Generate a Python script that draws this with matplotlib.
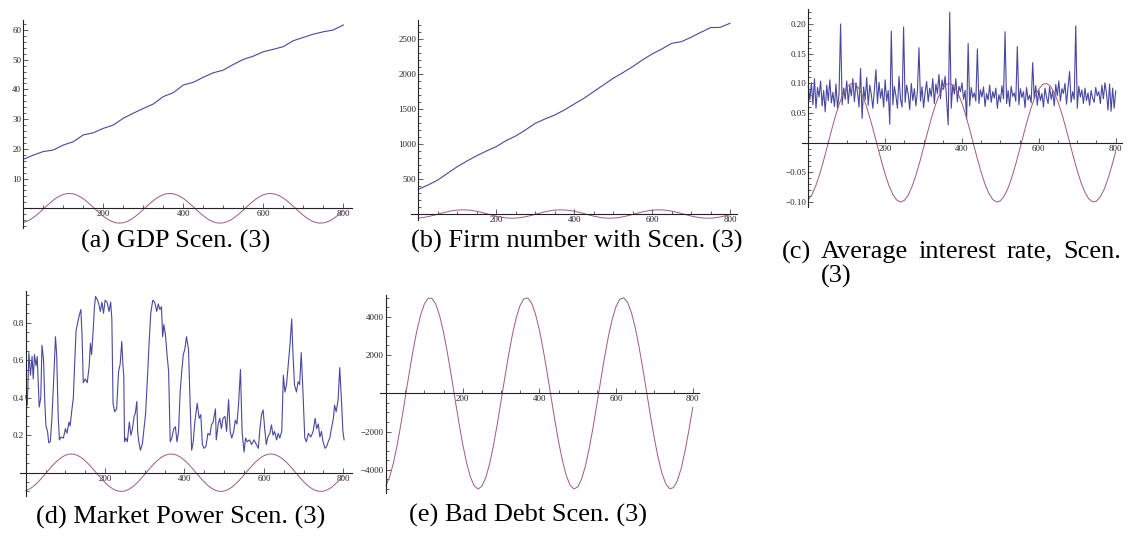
"""Five Mathematica-style panels: scenario (3) series against the sine driver."""
import numpy as np
import matplotlib
matplotlib.use("Agg")
import matplotlib.pyplot as plt
from matplotlib.ticker import MultipleLocator, FuncFormatter

W, H = 1128, 543
BLUE = "#4848a0"
PINK = "#a2587f"
SERIF = ["Liberation Serif", "DejaVu Serif"]

# ---- data ---------------------------------------------------------------
steps25 = np.arange(0, 801, 25)
gdp = [16.5, 17.9, 19.1, 19.6, 21.3, 22.4, 24.7, 25.4, 26.9, 28.0, 30.3,
       32.0, 33.6, 35.1, 37.6, 38.9, 41.5, 42.4, 44.1, 45.6, 46.5, 48.4,
       50.1, 51.2, 52.7, 53.5, 54.4, 56.4, 57.5, 58.6, 59.4, 60.0, 61.7]
firms = [352, 414, 486, 581, 676, 757, 833, 900, 962, 1048, 1114, 1200,
         1295, 1357, 1414, 1486, 1571, 1652, 1748, 1843, 1938, 2019, 2105,
         2200, 2286, 2357, 2438, 2462, 2524, 2595, 2662, 2667, 2724]

# sine driver shape, one value every 10 steps (scaled per panel)
steps10 = np.arange(0, 801, 10)
cycle = [-0.964, -0.867, -0.717, -0.523, -0.296, -0.050, 0.199, 0.435, 0.644, 0.813,
         0.932, 0.993, 0.992, 0.929, 0.809, 0.638, 0.427, 0.190, -0.058, -0.304,
         -0.530, -0.724, -0.872, -0.966, -1.000, -0.971, -0.884, -0.740, -0.551, -0.327,
         -0.083, 0.166, 0.405, 0.619, 0.794, 0.920, 0.988, 0.995, 0.941, 0.827,
         0.663, 0.457, 0.223, -0.025, -0.272, -0.502, -0.700, -0.855, -0.958, -0.999,
         -0.979, -0.898, -0.763, -0.577, -0.358, -0.116, 0.133, 0.374, 0.592, 0.773,
         0.906, 0.983, 0.998, 0.951, 0.845, 0.687, 0.486, 0.256, 0.008, -0.240,
         -0.473, -0.676, -0.838, -0.947, -0.997, -0.985, -0.912, -0.785, -0.604, -0.388,
         -0.149]
cycle_amp = {"a": 5, "b": 60, "c": 0.1, "d": 0.1, "e": 5000}

# average interest rate, every 4 steps
steps4 = np.arange(0, 801, 4)
rate = [0.095, 0.072, 0.101, 0.064, 0.108, 0.058, 0.093, 0.077, 0.104, 0.062,
        0.088, 0.052, 0.097, 0.071, 0.106, 0.067, 0.085, 0.061, 0.099, 0.058,
        0.082, 0.200, 0.064, 0.092, 0.073, 0.104, 0.066, 0.097, 0.079, 0.108,
        0.069, 0.101, 0.085, 0.060, 0.125, 0.041, 0.094, 0.072, 0.110, 0.063,
        0.097, 0.081, 0.058, 0.089, 0.123, 0.066, 0.102, 0.075, 0.091, 0.060,
        0.106, 0.070, 0.088, 0.031, 0.188, 0.064, 0.095, 0.079, 0.058, 0.112,
        0.073, 0.060, 0.195, 0.068, 0.097, 0.082, 0.056, 0.100, 0.071, 0.091,
        0.062, 0.087, 0.160, 0.070, 0.094, 0.059, 0.085, 0.103, 0.069, 0.092,
        0.078, 0.108, 0.066, 0.099, 0.083, 0.115, 0.074, 0.106, 0.090, 0.112,
        0.070, 0.030, 0.220, 0.058, 0.098, 0.082, 0.108, 0.069, 0.095, 0.086,
        0.101, 0.073, 0.088, 0.040, 0.167, 0.062, 0.093, 0.076, 0.084, 0.070,
        0.158, 0.066, 0.089, 0.077, 0.094, 0.061, 0.083, 0.072, 0.097, 0.068,
        0.086, 0.075, 0.092, 0.058, 0.081, 0.069, 0.096, 0.074, 0.187, 0.066,
        0.088, 0.061, 0.095, 0.078, 0.084, 0.070, 0.162, 0.064, 0.091, 0.076,
        0.086, 0.059, 0.093, 0.072, 0.080, 0.067, 0.135, 0.074, 0.096, 0.063,
        0.089, 0.071, 0.083, 0.060, 0.092, 0.077, 0.066, 0.094, 0.073, 0.087,
        0.062, 0.098, 0.079, 0.104, 0.070, 0.091, 0.083, 0.100, 0.065, 0.094,
        0.120, 0.068, 0.086, 0.073, 0.197, 0.058, 0.095, 0.077, 0.089, 0.066,
        0.092, 0.071, 0.084, 0.063, 0.088, 0.075, 0.068, 0.093, 0.079, 0.086,
        0.066, 0.097, 0.074, 0.101, 0.083, 0.055, 0.099, 0.053, 0.092, 0.058,
        0.087]

# market power, irregular steps
mp_t = [0, 4, 8, 12, 16, 19, 22, 26, 29, 32, 34, 38, 41, 45, 48, 51, 55, 58, 62, 66,
        71, 75, 78, 82, 85, 89, 95, 100, 104, 109, 112, 116, 120, 123, 127, 131, 135,
        139, 142, 145, 150, 155, 160, 163, 166, 170, 173, 176, 181, 184, 188, 192, 196,
        200, 205, 210, 214, 217, 220, 224, 229, 234, 238, 242, 245, 247, 249, 252, 256,
        261, 265, 269, 273, 276, 280, 282, 285, 289, 294, 299, 302, 307, 311, 315, 320,
        325, 330, 334, 338, 342, 345, 348, 352, 356, 360, 364, 368, 373, 377, 381, 385,
        389, 393, 397, 401, 405, 410, 414, 418, 422, 426, 432, 437, 441, 445, 449, 454,
        459, 464, 468, 472, 478, 480, 485, 489, 493, 497, 502, 506, 511, 515, 519, 524,
        528, 532, 536, 541, 545, 550, 554, 558, 564, 569, 575, 581, 586, 590, 594, 598,
        602, 606, 610, 615, 619, 623, 627, 632, 636, 640, 645, 649, 653, 657, 661, 666,
        670, 673, 677, 682, 686, 690, 694, 698, 703, 707, 712, 718, 724, 729, 733, 737,
        741, 745, 749, 754, 758, 762, 766, 770, 775, 778, 782, 787, 791, 795, 799, 802]
mp_v = [0.41, 0.36, 0.64, 0.52, 0.62, 0.50, 0.63, 0.57, 0.62, 0.45, 0.35, 0.40, 0.68,
        0.60, 0.38, 0.25, 0.22, 0.16, 0.165, 0.29, 0.52, 0.725, 0.63, 0.29, 0.175, 0.19,
        0.185, 0.235, 0.21, 0.27, 0.25, 0.33, 0.40, 0.565, 0.76, 0.80, 0.84, 0.87, 0.73,
        0.48, 0.50, 0.48, 0.57, 0.69, 0.63, 0.76, 0.88, 0.94, 0.92, 0.90, 0.86, 0.91,
        0.85, 0.92, 0.91, 0.86, 0.91, 0.82, 0.37, 0.325, 0.34, 0.54, 0.58, 0.70, 0.57,
        0.52, 0.165, 0.185, 0.165, 0.27, 0.20, 0.235, 0.30, 0.315, 0.38, 0.22, 0.165,
        0.12, 0.155, 0.255, 0.315, 0.52, 0.70, 0.85, 0.92, 0.91, 0.86, 0.90, 0.87, 0.885,
        0.725, 0.79, 0.735, 0.63, 0.54, 0.165, 0.185, 0.235, 0.245, 0.165, 0.22, 0.43,
        0.54, 0.63, 0.66, 0.725, 0.66, 0.38, 0.12, 0.165, 0.27, 0.37, 0.29, 0.31, 0.15,
        0.13, 0.14, 0.21, 0.20, 0.255, 0.27, 0.34, 0.175, 0.26, 0.29, 0.235, 0.29, 0.30,
        0.22, 0.39, 0.22, 0.185, 0.22, 0.28, 0.26, 0.36, 0.55, 0.22, 0.11, 0.185, 0.165,
        0.175, 0.15, 0.175, 0.15, 0.13, 0.235, 0.31, 0.335, 0.235, 0.15, 0.19, 0.21,
        0.255, 0.20, 0.22, 0.175, 0.21, 0.185, 0.22, 0.52, 0.43, 0.47, 0.57, 0.69, 0.82,
        0.645, 0.47, 0.43, 0.485, 0.47, 0.64, 0.45, 0.185, 0.165, 0.21, 0.19, 0.22, 0.29,
        0.235, 0.26, 0.19, 0.22, 0.165, 0.13, 0.14, 0.165, 0.185, 0.235, 0.29, 0.36,
        0.325, 0.39, 0.56, 0.40, 0.22, 0.175]


def minus(fmt):
    return FuncFormatter(lambda v, _: (fmt % v).replace("-", "\u2212"))


def panel(fig, px0, px800, ya, va, yb, vb, xlim, ylim, yticks, yminor, yfmt):
    """Axes placed so that t=0/800 and two y values land on given pixels."""
    sx = (px800 - px0) / 800.0
    sy = (ya - yb) / (vb - va)
    left, right = px0 + xlim[0] * sx, px0 + xlim[1] * sx
    top, bot = ya - (ylim[1] - va) * sy, ya - (ylim[0] - va) * sy
    ax = fig.add_axes([left / W, 1 - bot / H, (right - left) / W, (bot - top) / H])
    ax.set_xlim(*xlim); ax.set_ylim(*ylim)
    ax.patch.set_visible(False)
    for s in ("top", "right"):
        ax.spines[s].set_visible(False)
    for s in ("left", "bottom"):
        ax.spines[s].set_position(("data", 0))
        ax.spines[s].set_linewidth(0.8)
        ax.spines[s].set_color("#222222")
    ax.set_xticks([200, 400, 600, 800])
    ax.xaxis.set_minor_locator(MultipleLocator(50))
    ax.set_yticks(yticks)
    ax.yaxis.set_minor_locator(MultipleLocator(yminor))
    ax.yaxis.set_major_formatter(minus(yfmt))
    ax.tick_params(which="both", direction="in", width=0.6, color="#444444",
                   labelsize=6.5, labelcolor="#262626", pad=1.5)
    ax.tick_params(which="major", length=3.5)
    ax.tick_params(which="minor", length=2)
    for lab in ax.get_xticklabels() + ax.get_yticklabels():
        lab.set_family(SERIF)
    return ax


def caption(fig, x, y, s):
    fig.text(x / W, 1 - y / H, s, ha="center", va="center", fontsize=19, family=SERIF)


fig = plt.figure(figsize=(W / 100, H / 100), dpi=100)

# (a) GDP
ax = panel(fig, 23.3, 343.3, 208.3, 0, 30.0, 60, (-2, 821), (-6.7, 63.3),
           [10, 20, 30, 40, 50, 60], 2, "%d")
ax.plot(steps25, gdp, color=BLUE, lw=0.8)
ax.plot(steps10, np.array(cycle) * cycle_amp["a"], color=PINK, lw=0.7)
caption(fig, 176, 241, "(a) GDP Scen. (3)")

# (b) firm number
ax = panel(fig, 418.3, 730.0, 214.0, 0, 39.0, 2500, (-19, 817), (-86, 2771),
           [500, 1000, 1500, 2000, 2500], 100, "%d")
ax.plot(steps25, firms, color=BLUE, lw=0.8)
ax.plot(steps10, np.array(cycle) * cycle_amp["b"], color=PINK, lw=0.7)
caption(fig, 577, 241, "(b) Firm number with Scen. (3)")

# (c) average interest rate
ax = panel(fig, 808.3, 1115.7, 142.7, 0, 24.0, 0.2, (-17, 816), (-0.108, 0.226),
           [-0.10, -0.05, 0.05, 0.10, 0.15, 0.20], 0.01, "%.2f")
ax.plot(steps4, rate, color=BLUE, lw=0.8)
ax.plot(steps10, np.array(cycle) * cycle_amp["c"], color=PINK, lw=0.7)
for word, x in [("(c)", 782), ("Average", 821), ("interest", 918),
                ("rate,", 1007), ("Scen.", 1063)]:
    fig.text(x / W, 1 - 252 / H, word, ha="left", va="center", fontsize=19, family=SERIF)
fig.text(821 / W, 1 - 276 / H, "(3)", ha="left", va="center", fontsize=19, family=SERIF)

# (d) market power
ax = panel(fig, 25.7, 343.3, 472.7, 0, 322.7, 0.8, (-15, 821), (-0.124, 0.971),
           [0.2, 0.4, 0.6, 0.8], 0.05, "%.1f")
ax.plot(mp_t, mp_v, color=BLUE, lw=0.8)
ax.plot(steps10, np.array(cycle) * cycle_amp["d"], color=PINK, lw=0.7)
caption(fig, 181, 517, "(d) Market Power Scen. (3)")

# (e) bad debt
ax = panel(fig, 386.0, 692.7, 393.3, 0, 316.7, 4000, (-16, 817), (-5206, 5133),
           [-4000, -2000, 2000, 4000], 500, "%d")
ax.plot(steps10, np.array(cycle) * cycle_amp["e"], color=PINK, lw=0.7)
caption(fig, 528, 515, "(e) Bad Debt Scen. (3)")

fig.savefig("out.png", dpi=100)
